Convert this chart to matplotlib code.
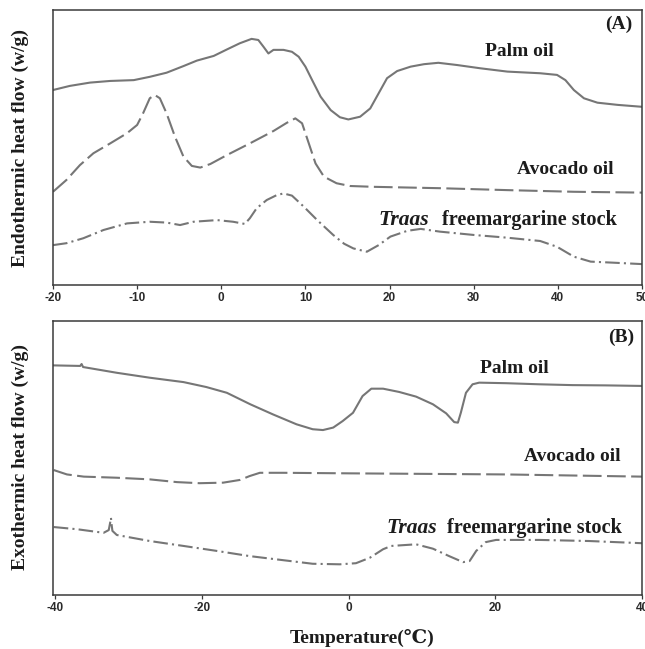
import matplotlib
matplotlib.use("Agg")
import matplotlib.pyplot as plt

plt.rcParams['axes.unicode_minus'] = False

# ---------------- Panel A (heating / melting) ----------------
a_palm_x = [-20, -18.0, -15.6, -13.2, -10.4, -8.5, -6.5, -4.5, -2.9, -0.9, 0.7, 2.2, 3.6, 4.4, 5.0,
            5.6, 6.2, 7.4, 8.4, 9.2, 10.0, 10.8, 11.8, 13.0, 14.1, 15.1, 16.5, 17.7, 18.7, 19.7,
            20.9, 22.5, 24.1, 25.8, 28.0, 30.8, 34.0, 37.9, 39.9, 40.9, 41.9, 43.1, 44.7, 47.1, 50]
a_palm_y = [70.9, 72.4, 73.6, 74.2, 74.5, 75.7, 77.2, 79.6, 81.6, 83.3, 85.7, 87.9, 89.5, 89.1, 86.7,
            84.2, 85.5, 85.5, 84.8, 83.0, 79.4, 74.5, 68.5, 63.6, 61.0, 60.2, 61.2, 64.2, 69.7, 75.2,
            77.8, 79.4, 80.3, 80.8, 80.0, 78.8, 77.6, 77.0, 76.4, 74.5, 70.9, 67.9, 66.3, 65.5, 64.8]

a_avo_x = [-20, -18.4, -16.8, -15.2, -13.2, -11.2, -10.0, -9.3, -8.5, -7.9, -7.3, -6.5, -5.5, -4.5,
           -3.5, -2.5, -1.3, 0.7, 3.4, 6.2, 7.8, 8.8, 9.6, 10.4, 11.2, 12.2, 13.7, 15.3, 18.1, 26.0,
           34.0, 41.9, 50]
a_avo_y = [33.9, 38.2, 43.6, 47.9, 51.5, 55.2, 58.2, 62.4, 67.9, 69.1, 67.9, 62.4, 53.9, 46.7,
           43.3, 42.7, 44.0, 47.3, 51.5, 56.0, 59.0, 60.6, 58.8, 51.5, 44.2, 39.4, 37.0, 36.0, 35.7, 35.2,
           34.5, 33.9, 33.6]

a_tfm_x = [-20, -18.4, -16.4, -14.0, -11.2, -8.5, -6.5, -4.9, -3.3, -0.5, 1.4, 2.8, 3.4, 4.2, 5.4,
           6.6, 7.4, 8.4, 9.8, 11.4, 13.3, 14.6, 15.7, 17.3, 18.7, 20.1, 22.1, 23.7, 26.0, 30.0,
           34.0, 37.9, 39.9, 41.9, 43.9, 46.7, 50]
a_tfm_y = [14.5, 15.2, 17.0, 20.0, 22.4, 23.0, 22.7, 21.8, 23.0, 23.6, 23.0, 22.2, 24.3, 27.9, 30.9,
           32.7, 33.3, 32.5, 28.5, 23.6, 18.2, 15.0, 13.3, 12.1, 14.5, 17.6, 19.7, 20.4, 19.4, 18.2,
           17.2, 16.0, 13.9, 10.3, 8.5, 8.1, 7.6]

# ---------------- Panel B (cooling / crystallization) ----------------
b_palm_x = [-40.2, -36.6, -36.4, -36.2, -31.6, -27.1, -22.5, -19.4, -16.6, -13.4, -10.3, -7.1, -4.9,
            -3.5, -2.1, -0.8, 0.6, 1.9, 3.1, 4.7, 6.9, 9.2, 11.5, 13.3, 14.4, 14.9, 15.3, 16.0, 16.9,
            17.8, 21.5, 26.0, 30.5, 35.1, 40]
b_palm_y = [83.8, 83.6, 84.3, 83.2, 81.1, 79.3, 77.7, 75.9, 73.8, 69.6, 65.9, 62.3, 60.5,
            60.2, 61.1, 63.5, 66.5, 72.6, 75.3, 75.3, 74.1, 72.4, 69.6, 66.3, 63.1, 62.9, 66.5, 73.8,
            76.9, 77.5, 77.3, 76.9, 76.6, 76.5, 76.3]

b_avo_x = [-40.2, -38.4, -36.1, -31.6, -27.1, -23.4, -20.3, -17.1, -14.8, -13.5, -12.1, -8.9, 0.1,
           21.5, 40]
b_avo_y = [45.6, 44.0, 43.2, 42.8, 42.2, 41.2, 40.8, 41.0, 42.0, 43.4, 44.6, 44.6, 44.4,
           44.0, 43.2]

b_tfm_x = [-40.2, -37.0, -33.4, -32.7, -32.5, -32.4, -32.3, -32.2, -31.6, -27.1, -22.5, -18.0,
           -13.5, -8.9, -4.9, -1.2, 1.0, 2.9, 4.7, 5.8, 9.2, 11.5, 13.7, 15.6, 16.5, 17.4, 18.7,
           20.1, 26.0, 32.8, 40]
b_tfm_y = [24.8, 24.0, 22.7, 23.7, 26.5, 28.2, 25.5, 23.4, 21.9, 19.7, 17.9, 16.1,
           14.2, 12.7, 11.4, 11.2, 11.6, 13.6, 16.7, 17.9, 18.5, 16.9, 14.2, 12.0, 12.4, 16.1, 19.3,
           20.1, 20.1, 19.7, 18.9]

a_ticks = [-20, -10, 0, 10, 20, 30, 40, 50]
b_ticks = [-40, -20, 0, 20, 40]

line_color = '#767676'
serif = ['Liberation Serif', 'DejaVu Serif']
tickfont = ['Liberation Sans', 'DejaVu Sans']
text_color = '#1c1c1c'

fig = plt.figure(figsize=(6.45, 6.49), dpi=100)
axA = fig.add_axes([53 / 645, 1 - 285 / 649, 589 / 645, 275 / 649])
axB = fig.add_axes([53 / 645, 1 - 595 / 649, 589 / 645, 274 / 649])

dash_a = (0, (9, 2.6))
dashdot = (0, (7, 2, 1, 2))
lw = 1.5

for ax in (axA, axB):
    for s in ax.spines.values():
        s.set_color('#3a3a3a')
        s.set_linewidth(1.1)
    ax.set_yticks([])
    ax.set_ylim(0, 100)
    ax.tick_params(axis='x', direction='out', length=3, width=0.9, color='#3a3a3a', pad=2)

axA.plot(a_palm_x, a_palm_y, color=line_color, lw=lw, solid_joinstyle='round')
axA.plot(a_avo_x, a_avo_y, color=line_color, lw=lw, linestyle=dash_a)
axA.plot(a_tfm_x, a_tfm_y, color=line_color, lw=lw, linestyle=dashdot)
axA.set_xlim(-20, 50)
axA.set_xticks(a_ticks)
axA.set_xticklabels([str(t) for t in a_ticks])

axB.plot(b_palm_x, b_palm_y, color=line_color, lw=lw, solid_joinstyle='round')
axB.plot(b_avo_x, b_avo_y, color=line_color, lw=lw, linestyle=dash_a)
axB.plot(b_tfm_x, b_tfm_y, color=line_color, lw=lw, linestyle=dashdot)
axB.set_xlim(-40.3, 40)
axB.set_xticks(b_ticks)
axB.set_xticklabels([str(t) for t in b_ticks])

for ax in (axA, axB):
    for lab in ax.get_xticklabels():
        lab.set_family(tickfont)
        lab.set_fontweight('bold')
        lab.set_fontsize(8.5)
        lab.set_color('#2a2a2a')

tk = dict(family=serif, fontsize=14, fontweight='bold', color=text_color)
tk2 = dict(family=serif, fontsize=14.6, fontweight='bold', color=text_color)
tki = dict(family=serif, fontsize=15.5, fontweight='bold', style='italic', color=text_color)
axA.text(47.2, 94.9, '(A)', ha='center', va='center', **tk)
axA.text(35.4, 84.8, 'Palm oil', ha='center', va='center', **tk)
axA.text(40.9, 42.1, 'Avocado oil', ha='center', va='center', **tk)
axA.text(18.7, 23.6, 'Traas', ha='left', va='center', **tki)
axA.text(47.0, 23.6, 'freemargarine stock', ha='right', va='center', **tk2)

axB.text(37.1, 93.9, '(B)', ha='center', va='center', **tk)
axB.text(22.6, 82.6, 'Palm oil', ha='center', va='center', **tk)
axB.text(30.5, 50.7, 'Avocado oil', ha='center', va='center', **tk)
axB.text(5.1, 24.6, 'Traas', ha='left', va='center', **tki)
axB.text(37.3, 24.6, 'freemargarine stock', ha='right', va='center', **tk2)

fig.text(20 / 645, 1 - 148 / 649, 'Endothermic heat flow (w/g)', rotation=90,
         ha='center', va='center', family=serif, fontsize=14, fontweight='bold', color=text_color)
fig.text(20 / 645, 1 - 457 / 649, 'Exothermic heat flow (w/g)', rotation=90,
         ha='center', va='center', family=serif, fontsize=14, fontweight='bold', color=text_color)
fig.text(362 / 645, 1 - 638 / 649, 'Temperature(\u2103)', ha='center', va='center',
         family=serif, fontsize=14, fontweight='bold', color=text_color)

fig.savefig('out.png', dpi=100)
